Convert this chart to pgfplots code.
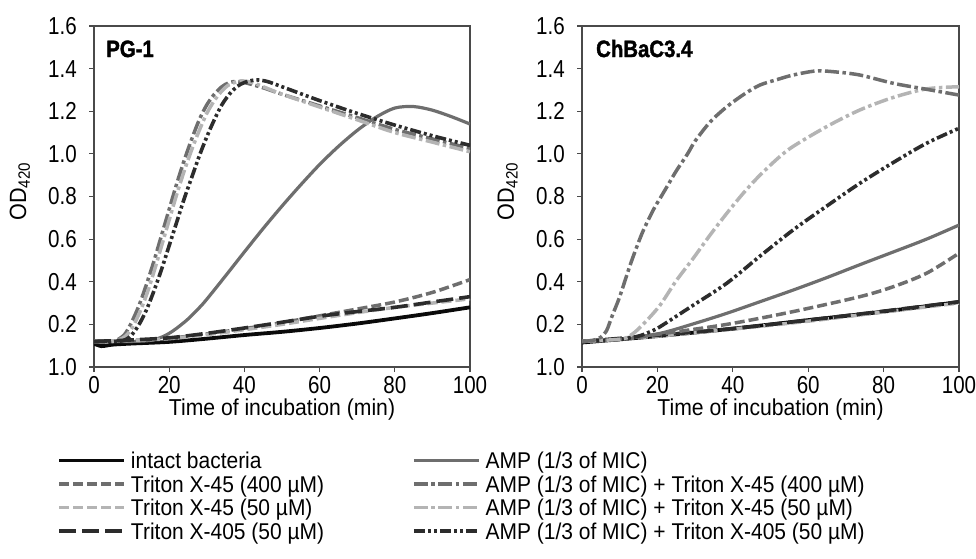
\documentclass[border=0pt]{standalone}
\usepackage{fontspec}
\setmainfont{Liberation Sans}[FakeStretch=0.92]
\newfontfamily\tickfont{Liberation Sans}[FakeStretch=0.84]
\newfontfamily\titlefont{Liberation Sans Bold}[FakeStretch=0.86, FakeBold=1.6]
\usepackage{pgfplots}
\pgfplotsset{compat=1.18}
\definecolor{cblack}{HTML}{0A0A0A}
\definecolor{cmed}{HTML}{6E6E6E}
\definecolor{clight}{HTML}{B4B4B4}
\definecolor{cdark}{HTML}{2C2C2C}
\definecolor{caxis}{HTML}{4A4A4A}
\pgfplotsset{
  sIntact/.style={cblack, line width=3.8pt, solid},
  sAMP/.style={cmed, line width=3.2pt, solid},
  sXh/.style={cmed, line width=3.5pt, dash pattern=on 10pt off 4pt},
  sAXh/.style={cmed, line width=3.5pt, dash pattern=on 14pt off 3.5pt on 3.5pt off 3.5pt},
  sXl/.style={clight, line width=3.5pt, dash pattern=on 10pt off 4pt},
  sAXl/.style={clight, line width=3.5pt, dash pattern=on 14pt off 3.5pt on 3.5pt off 3.5pt},
  sX405/.style={cdark, line width=3.6pt, dash pattern=on 17pt off 6pt},
  sAX405/.style={cdark, line width=3.6pt, dash pattern=on 11pt off 3pt on 3pt off 3pt on 3pt off 3pt},
  myaxis/.style={
    scale only axis, height=341pt,
    xmin=0, xmax=100, ymin=0, ymax=1.6,
    xtick={0,20,40,60,80,100}, xticklabels={0,20,40,60,80,100},
    ytick={0,0.2,0.4,0.6,0.8,1.0,1.2,1.4,1.6},
    yticklabels={1.0,0.2,0.4,0.6,0.8,1.0,1.2,1.4,1.6},
    tick pos=left, tick align=outside, major tick length=5pt,
    axis line style={caxis, line width=1.5pt},
    every tick/.style={caxis, line width=1.2pt},
    tick label style={font=\tickfont\fontsize{24.5}{26}\selectfont},
    xticklabel style={anchor=base, inner sep=0pt, yshift=-21pt},
    yticklabel style={anchor=east, inner sep=0pt, xshift=-12pt},
    xlabel={Time of incubation (min)},
    xlabel style={font=\fontsize{23}{26}\selectfont, at={(axis description cs:0.5,-0.142)}, anchor=base},
    ylabel={OD\textsubscript{420}},
    ylabel style={font=\fontsize{23.5}{26}\selectfont, at={(axis description cs:-0.197,0.515)}, anchor=center},
    every axis plot/.append style={smooth, tension=0.5},
  },
}
\begin{document}
\begin{tikzpicture}
\path[use as bounding box] (0,0) rectangle (976pt,558pt);
% ---------------- PG-1 ----------------
\begin{axis}[myaxis, width=376pt, at={(94pt,191pt)}, anchor=south west,
  legend columns=2, legend cell align=left,
  legend style={at={(axis description cs:-0.0984,-0.2387)}, anchor=north west,
    draw=none, fill=none, inner sep=0pt, row sep=0pt,
    font=\fontsize{22.8}{24}\selectfont,
    nodes={inner sep=0pt, text height=19.8pt, text depth=3.8pt},
    /tikz/every odd column/.style={column sep=5pt},
    /tikz/every even column/.style={column sep=0pt}},
  legend image code/.code={\draw[#1] (0pt,0pt) -- (65pt,0pt);}]
\addplot[sIntact] coordinates {(0,0.11)(2,0.098)(5,0.105)(10,0.11)(20,0.118)(30,0.133)(40,0.15)(50,0.165)(60,0.183)(70,0.204)(80,0.228)(90,0.253)(100,0.28)};
\addlegendentry{\makebox[281pt][l]{intact bacteria}}
\addplot[sAMP] coordinates {(0,0.12)(10,0.12)(15,0.125)(18,0.14)(20,0.158)(22,0.182)(25,0.225)(28,0.278)(30,0.318)(35,0.428)(40,0.54)(45,0.65)(50,0.755)(55,0.855)(60,0.95)(65,1.035)(70,1.11)(75,1.172)(80,1.215)(85,1.222)(90,1.205)(95,1.175)(100,1.14)};
\addlegendentry{AMP (1/3 of MIC)}
\addplot[sXh] coordinates {(0,0.12)(10,0.125)(20,0.135)(30,0.155)(40,0.18)(50,0.208)(60,0.24)(70,0.272)(80,0.305)(90,0.35)(100,0.41)};
\addlegendentry{\makebox[281pt][l]{Triton X-45 (400 µM)}}
\addplot[sAXh] coordinates {(0,0.12)(5,0.12)(8,0.15)(10,0.21)(12,0.29)(14,0.39)(16,0.5)(18,0.62)(20,0.74)(22,0.86)(24,0.97)(26,1.07)(28,1.16)(30,1.23)(32,1.28)(34,1.315)(36,1.335)(38,1.34)(40,1.335)(45,1.31)(50,1.28)(60,1.225)(70,1.17)(80,1.115)(90,1.07)(100,1.025)};
\addlegendentry{AMP (1/3 of MIC) + Triton X-45 (400 µM)}
\addplot[sXl] coordinates {(0,0.12)(10,0.125)(20,0.133)(30,0.152)(40,0.175)(50,0.2)(60,0.228)(70,0.255)(80,0.28)(90,0.3)(100,0.32)};
\addlegendentry{\makebox[281pt][l]{Triton X-45 (50 µM)}}
\addplot[sAXl] coordinates {(0,0.12)(5,0.12)(8,0.14)(10,0.18)(12,0.25)(14,0.34)(16,0.45)(18,0.57)(20,0.69)(22,0.81)(24,0.92)(26,1.02)(28,1.11)(30,1.19)(32,1.25)(34,1.295)(36,1.325)(39,1.342)(42,1.335)(45,1.315)(50,1.28)(60,1.22)(70,1.16)(80,1.10)(90,1.055)(100,1.01)};
\addlegendentry{AMP (1/3 of MIC) + Triton X-45 (50 µM)}
\addplot[sX405] coordinates {(0,0.12)(10,0.127)(20,0.137)(30,0.158)(40,0.183)(50,0.21)(60,0.238)(70,0.26)(80,0.28)(90,0.305)(100,0.33)};
\addlegendentry{\makebox[281pt][l]{Triton X-405 (50 µM)}}
\addplot[sAX405] coordinates {(0,0.12)(5,0.12)(8,0.125)(10,0.15)(12,0.2)(14,0.27)(16,0.36)(18,0.46)(20,0.57)(22,0.68)(24,0.79)(26,0.89)(28,0.99)(30,1.08)(32,1.16)(34,1.23)(36,1.28)(38,1.315)(40,1.335)(43,1.347)(46,1.34)(50,1.315)(60,1.25)(70,1.19)(80,1.135)(90,1.085)(100,1.04)};
\addlegendentry{AMP (1/3 of MIC) + Triton X-405 (50 µM)}
\node[anchor=base west, inner sep=0pt, font=\titlefont\fontsize{23.7}{26}\selectfont] at (axis description cs:0.032,0.909) {PG-1};
\end{axis}
% ---------------- ChBaC3.4 ----------------
\begin{axis}[myaxis, width=377pt, at={(582pt,191pt)}, anchor=south west]
\addplot[sIntact] coordinates {(0,0.115)(20,0.145)(40,0.18)(60,0.22)(80,0.26)(100,0.305)};
\addplot[sXl] coordinates {(0,0.12)(20,0.145)(40,0.178)(60,0.215)(80,0.258)(100,0.3)};
\addplot[sX405] coordinates {(0,0.12)(20.7,0.15)(40,0.18)(60,0.22)(80,0.262)(100,0.306)};
\addplot[sXh] coordinates {(0,0.12)(10,0.13)(20.7,0.155)(38.4,0.2)(56,0.26)(73.7,0.33)(82.6,0.377)(91.4,0.44)(100,0.534)};
\addplot[sAMP] coordinates {(0,0.12)(10,0.13)(20.7,0.158)(30,0.205)(38.4,0.252)(47,0.305)(56,0.361)(65,0.42)(73.7,0.48)(82.6,0.54)(91.4,0.6)(100,0.666)};
\addplot[sAX405] coordinates {(0,0.12)(10,0.13)(15,0.145)(18,0.165)(20.7,0.189)(29.5,0.29)(38.4,0.393)(47.2,0.52)(56,0.643)(64.9,0.755)(73.7,0.862)(82.6,0.96)(91.4,1.05)(100,1.12)};
\addplot[sAXl] coordinates {(0,0.12)(10,0.13)(12,0.14)(14,0.163)(17,0.215)(20.7,0.29)(25,0.405)(29.5,0.51)(34,0.62)(38.4,0.721)(43,0.82)(47.2,0.9)(52,0.98)(56,1.035)(64.9,1.128)(73.7,1.206)(82.6,1.265)(91.4,1.305)(100,1.315)};
\addplot[sAXh] coordinates {(0,0.12)(3,0.125)(5,0.14)(6.5,0.17)(8,0.24)(10,0.33)(13,0.49)(16,0.63)(19,0.74)(21,0.8)(23,0.86)(25,0.92)(28,1.0)(30,1.06)(34,1.15)(38.4,1.221)(43,1.28)(47.2,1.323)(52,1.35)(56,1.37)(62,1.389)(67,1.385)(73.7,1.37)(82.6,1.331)(91.4,1.303)(100,1.276)};
\node[anchor=base west, inner sep=0pt, font=\titlefont\fontsize{23.7}{26}\selectfont] at (axis description cs:0.037,0.909) {ChBaC3.4};
\end{axis}
\end{tikzpicture}
\end{document}
